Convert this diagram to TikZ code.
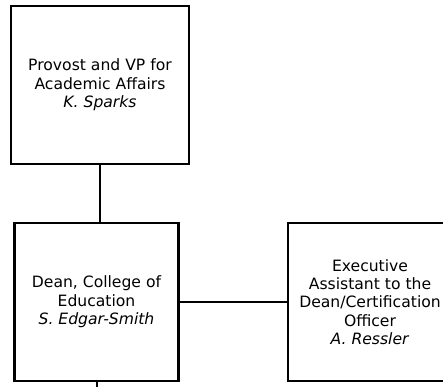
\documentclass[tikz,border=0pt]{standalone}
\usepackage{fontspec}
\setmainfont{DejaVu Sans}
\usetikzlibrary{positioning}

\begin{document}
\begin{tikzpicture}[x=1pt,y=-1pt,
        orgbox/.style={draw, line width=2.8pt, align=center, minimum height=158pt,
            font=\fontsize{15.6}{18.4}\selectfont},
        link/.style={line width=1.8pt}]
        \useasboundingbox (0,0) rectangle (443,386);
        \clip (0,0) rectangle (443,386);

        % Provost at the top
        \node[orgbox, minimum width=178pt] (provost) at (100,85)
            {Provost and VP for\\Academic Affairs\\\textit{K. Sparks}};

        % Dean and the assistant beside it
        \node[orgbox, minimum width=164pt] (dean) at (96.5,302)
            {Dean, College of\\Education\\\textit{S. Edgar-Smith}};
        \node[orgbox, minimum width=164pt] (assistant) at (370,302)
            {Executive\\Assistant to the\\Dean/Certification\\Officer\\\textit{A. Ressler}};
        \coordinate (next) at (97,400);

        \draw[link] (provost.south) -- (provost.south |- dean.north);
        \draw[link] (dean) -- (assistant);
        \draw[link] (dean.south -| next) -- (next);
\end{tikzpicture}
\end{document}
